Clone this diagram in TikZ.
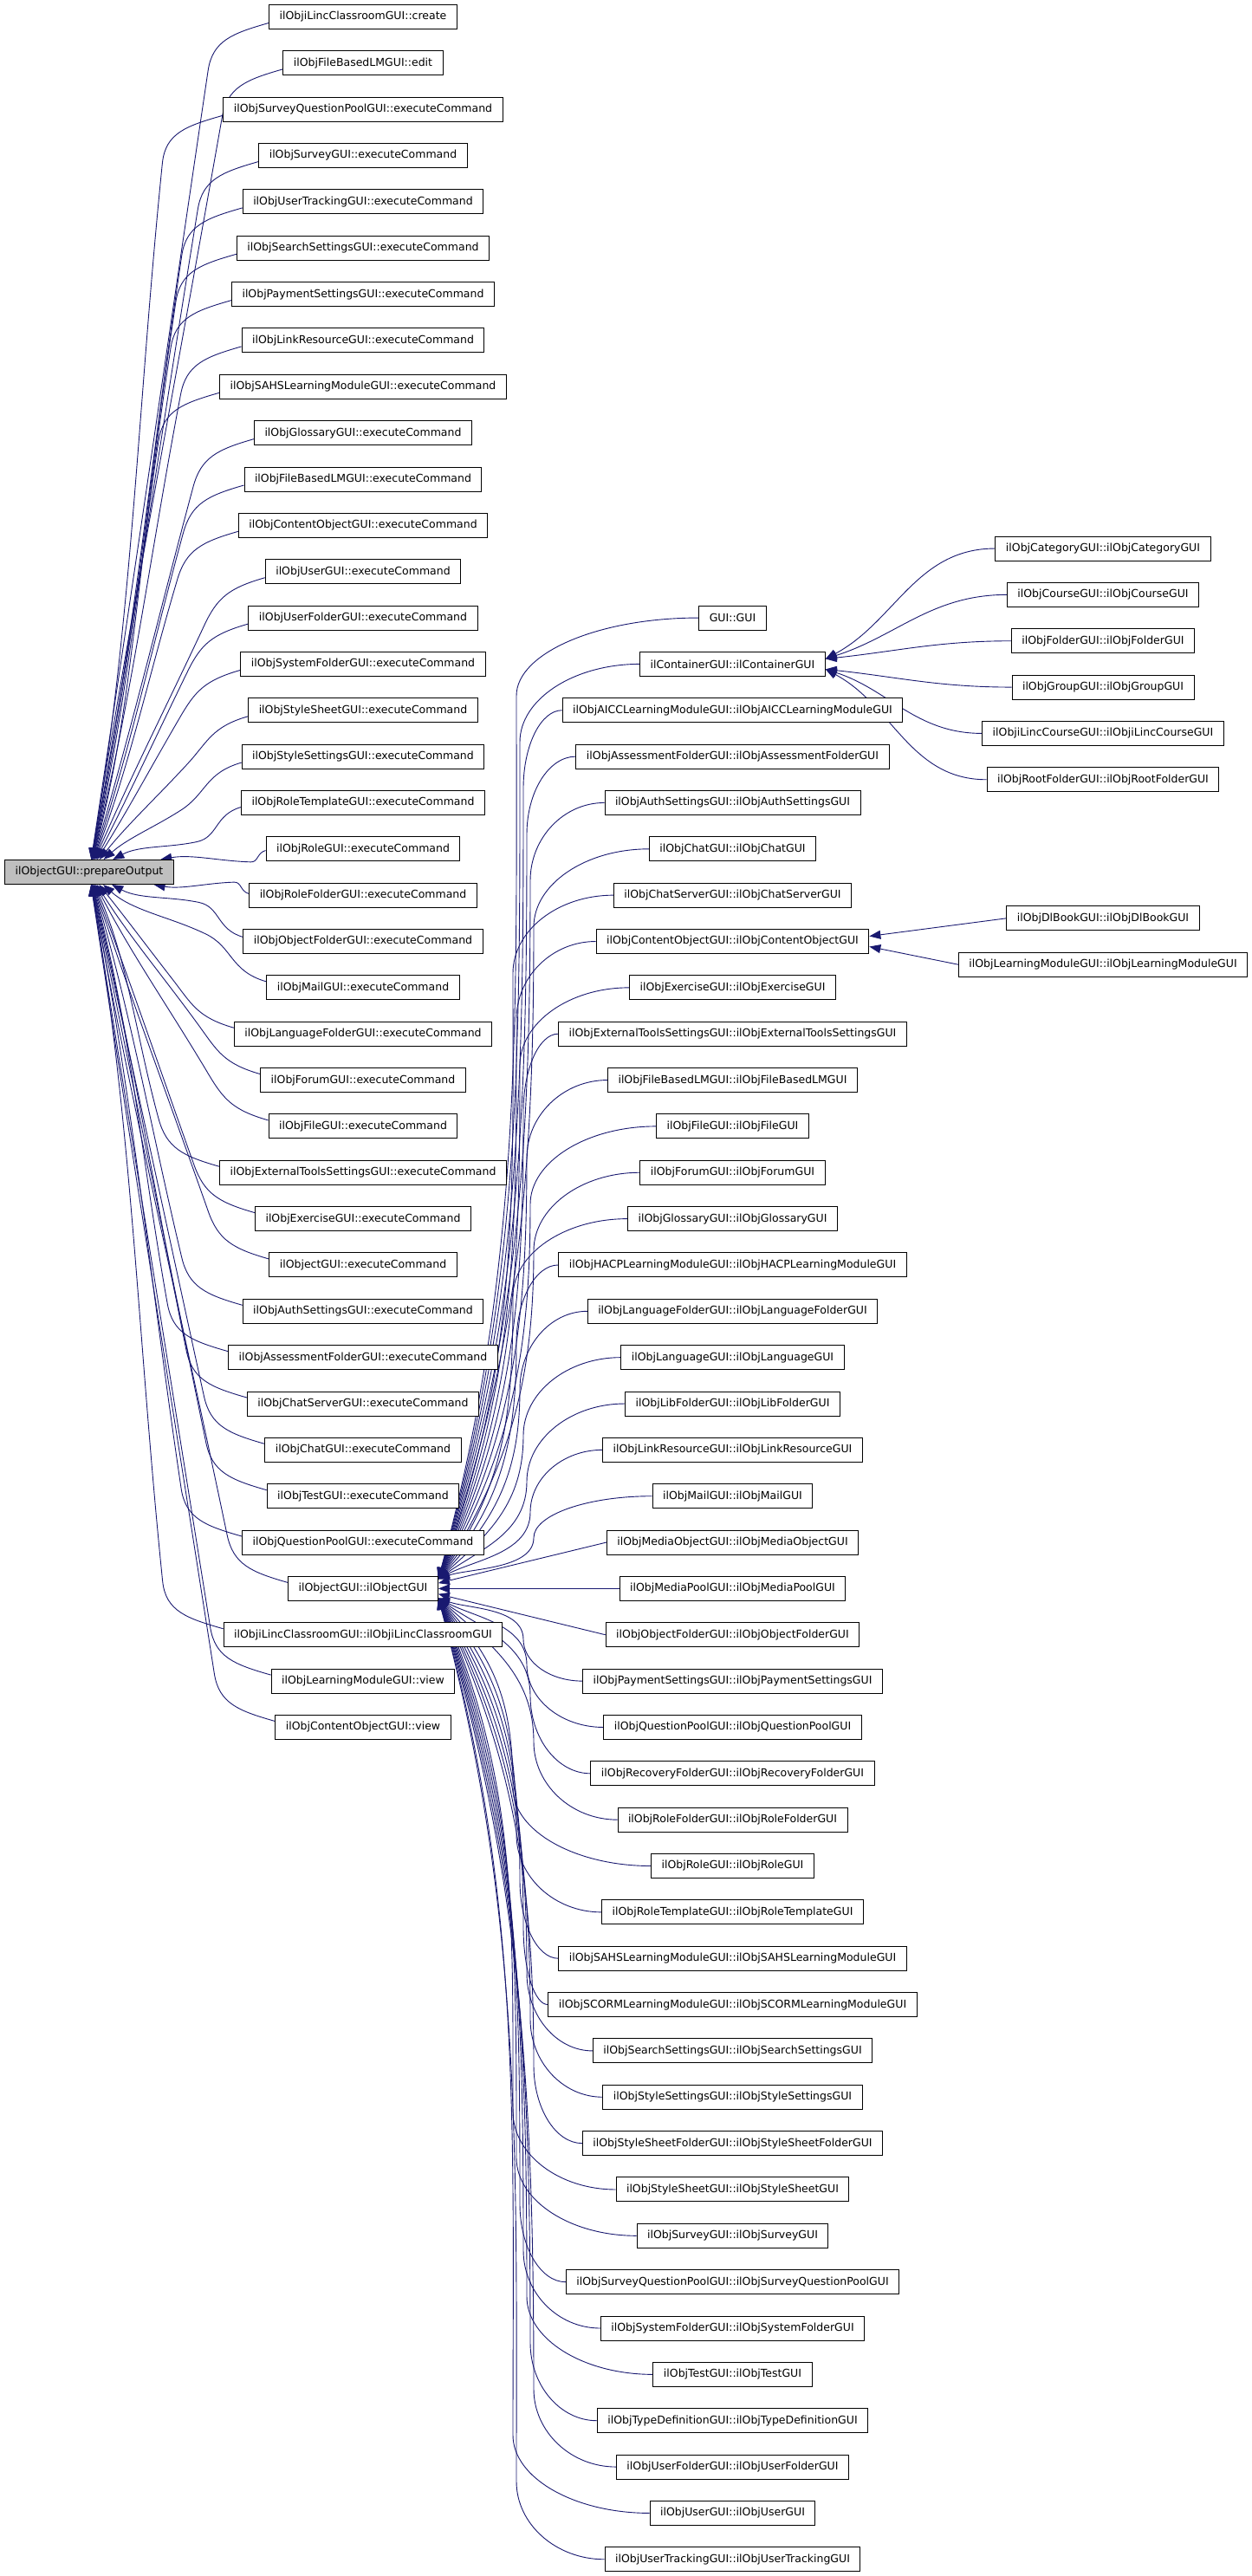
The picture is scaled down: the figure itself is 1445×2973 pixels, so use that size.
\documentclass[tikz,border=0pt]{standalone}
\usepackage{fontspec}
\setmainfont{DejaVu Sans}
\usepackage{tikz}
\usepackage{xcolor}
\usetikzlibrary{positioning, calc, arrows.meta, backgrounds}

\definecolor{callblue}{HTML}{191970}
\definecolor{focusgray}{HTML}{BFBFBF}

\begin{document}
\begin{tikzpicture}[
  x=1pt, y=1pt,
  font=\fontsize{12.5}{15}\selectfont,
  fn/.style={draw=black, line width=1pt, fill=white, rectangle,
    minimum height=28pt, inner xsep=12pt, inner ysep=0pt},
  focus/.style={fn, fill=focusgray},
  call/.style={callblue, line width=0.9pt, {Triangle[length=13pt, width=10pt]}-},
]
\useasboundingbox (0,0) rectangle (1445,-2973);

% column x positions (centres)
\pgfmathsetmacro{\xP}{103}
\pgfmathsetmacro{\xL}{419}
\pgfmathsetmacro{\xM}{845.5}
\pgfmathsetmacro{\xR}{1273}

% vertical step between rows, first row
\pgfmathsetmacro{\vs}{53.35}
\pgfmathsetmacro{\yA}{19.5}

% ---- the function itself ----
\node[focus] (po) at (\xP, {-(\yA+18.5*\vs)}) {ilObjectGUI::prepareOutput};

% ---- callers of prepareOutput (L35 is ilObjectGUI::ilObjectGUI) ----
\foreach \lbl [count=\k] in {
  ilObjiLincClassroomGUI::create,
  ilObjFileBasedLMGUI::edit,
  ilObjSurveyQuestionPoolGUI::executeCommand,
  ilObjSurveyGUI::executeCommand,
  ilObjUserTrackingGUI::executeCommand,
  ilObjSearchSettingsGUI::executeCommand,
  ilObjPaymentSettingsGUI::executeCommand,
  ilObjLinkResourceGUI::executeCommand,
  ilObjSAHSLearningModuleGUI::executeCommand,
  ilObjGlossaryGUI::executeCommand,
  ilObjFileBasedLMGUI::executeCommand,
  ilObjContentObjectGUI::executeCommand,
  ilObjUserGUI::executeCommand,
  ilObjUserFolderGUI::executeCommand,
  ilObjSystemFolderGUI::executeCommand,
  ilObjStyleSheetGUI::executeCommand,
  ilObjStyleSettingsGUI::executeCommand,
  ilObjRoleTemplateGUI::executeCommand,
  ilObjRoleGUI::executeCommand,
  ilObjRoleFolderGUI::executeCommand,
  ilObjObjectFolderGUI::executeCommand,
  ilObjMailGUI::executeCommand,
  ilObjLanguageFolderGUI::executeCommand,
  ilObjForumGUI::executeCommand,
  ilObjFileGUI::executeCommand,
  ilObjExternalToolsSettingsGUI::executeCommand,
  ilObjExerciseGUI::executeCommand,
  ilObjectGUI::executeCommand,
  ilObjAuthSettingsGUI::executeCommand,
  ilObjAssessmentFolderGUI::executeCommand,
  ilObjChatServerGUI::executeCommand,
  ilObjChatGUI::executeCommand,
  ilObjTestGUI::executeCommand,
  ilObjQuestionPoolGUI::executeCommand,
  ilObjectGUI::ilObjectGUI,
  ilObjiLincClassroomGUI::ilObjiLincClassroomGUI,
  ilObjLearningModuleGUI::view,
  ilObjContentObjectGUI::view} {
  \node[fn] (L\k) at (\xL, {-(\yA+(\k-1)*\vs)}) {\lbl};
}

% ---- callers of ilObjectGUI::ilObjectGUI (M2 container, M8 content object) ----
\foreach \lbl [count=\k] in {
  GUI::GUI,
  ilContainerGUI::ilContainerGUI,
  ilObjAICCLearningModuleGUI::ilObjAICCLearningModuleGUI,
  ilObjAssessmentFolderGUI::ilObjAssessmentFolderGUI,
  ilObjAuthSettingsGUI::ilObjAuthSettingsGUI,
  ilObjChatGUI::ilObjChatGUI,
  ilObjChatServerGUI::ilObjChatServerGUI,
  ilObjContentObjectGUI::ilObjContentObjectGUI,
  ilObjExerciseGUI::ilObjExerciseGUI,
  ilObjExternalToolsSettingsGUI::ilObjExternalToolsSettingsGUI,
  ilObjFileBasedLMGUI::ilObjFileBasedLMGUI,
  ilObjFileGUI::ilObjFileGUI,
  ilObjForumGUI::ilObjForumGUI,
  ilObjGlossaryGUI::ilObjGlossaryGUI,
  ilObjHACPLearningModuleGUI::ilObjHACPLearningModuleGUI,
  ilObjLanguageFolderGUI::ilObjLanguageFolderGUI,
  ilObjLanguageGUI::ilObjLanguageGUI,
  ilObjLibFolderGUI::ilObjLibFolderGUI,
  ilObjLinkResourceGUI::ilObjLinkResourceGUI,
  ilObjMailGUI::ilObjMailGUI,
  ilObjMediaObjectGUI::ilObjMediaObjectGUI,
  ilObjMediaPoolGUI::ilObjMediaPoolGUI,
  ilObjObjectFolderGUI::ilObjObjectFolderGUI,
  ilObjPaymentSettingsGUI::ilObjPaymentSettingsGUI,
  ilObjQuestionPoolGUI::ilObjQuestionPoolGUI,
  ilObjRecoveryFolderGUI::ilObjRecoveryFolderGUI,
  ilObjRoleFolderGUI::ilObjRoleFolderGUI,
  ilObjRoleGUI::ilObjRoleGUI,
  ilObjRoleTemplateGUI::ilObjRoleTemplateGUI,
  ilObjSAHSLearningModuleGUI::ilObjSAHSLearningModuleGUI,
  ilObjSCORMLearningModuleGUI::ilObjSCORMLearningModuleGUI,
  ilObjSearchSettingsGUI::ilObjSearchSettingsGUI,
  ilObjStyleSettingsGUI::ilObjStyleSettingsGUI,
  ilObjStyleSheetFolderGUI::ilObjStyleSheetFolderGUI,
  ilObjStyleSheetGUI::ilObjStyleSheetGUI,
  ilObjSurveyGUI::ilObjSurveyGUI,
  ilObjSurveyQuestionPoolGUI::ilObjSurveyQuestionPoolGUI,
  ilObjSystemFolderGUI::ilObjSystemFolderGUI,
  ilObjTestGUI::ilObjTestGUI,
  ilObjTypeDefinitionGUI::ilObjTypeDefinitionGUI,
  ilObjUserFolderGUI::ilObjUserFolderGUI,
  ilObjUserGUI::ilObjUserGUI,
  ilObjUserTrackingGUI::ilObjUserTrackingGUI} {
  \node[fn] (M\k) at (\xM, {-(\yA+(12+\k)*\vs)}) {\lbl};
}

% ---- callers of ilContainerGUI ----
\foreach \lbl [count=\k] in {
  ilObjCategoryGUI::ilObjCategoryGUI,
  ilObjCourseGUI::ilObjCourseGUI,
  ilObjFolderGUI::ilObjFolderGUI,
  ilObjGroupGUI::ilObjGroupGUI,
  ilObjiLincCourseGUI::ilObjiLincCourseGUI,
  ilObjRootFolderGUI::ilObjRootFolderGUI} {
  \node[fn] (R\k) at (\xR, {-(\yA+(10.5+\k)*\vs)}) {\lbl};
}

% ---- callers of ilObjContentObjectGUI ----
\foreach \lbl [count=\k] in {
  ilObjDlBookGUI::ilObjDlBookGUI,
  ilObjLearningModuleGUI::ilObjLearningModuleGUI} {
  \node[fn] (S\k) at (\xR, {-(\yA+(18.5+\k)*\vs)}) {\lbl};
}

% ---- call edges (behind the boxes) ----
\begin{pgfonlayer}{background}
% into prepareOutput: bend near the caller, then run down/up to po
\foreach \k in {1,...,38} {
  \pgfmathsetmacro{\dy}{(19.5-\k)*\vs}
  \pgfmathsetmacro{\sgn}{\dy/abs(\dy)}
  \pgfmathsetmacro{\ao}{atan2(\dy,150)}
  \pgfmathtruncatemacro{\an}{mod(\ao+360,360)}
  \pgfmathsetmacro{\fr}{min(1,abs(\dy)/110)}
  \pgfmathsetmacro{\ey}{-\sgn*7*\fr}
  \path (po.\an); \pgfgetlastxy{\sx}{\sy}
  \path ([yshift=\ey pt]L\k.west); \pgfgetlastxy{\wx}{\wy}
  \pgfmathsetmacro{\qx}{\wx-70*\fr}
  \pgfmathsetmacro{\qy}{\wy-\sgn*55*\fr}
  \pgfmathsetmacro{\bq}{atan2(\qy-\sy,\qx-\sx)}
  \pgfmathsetmacro{\bb}{\bq+180}
  \pgfmathsetmacro{\ctA}{0.35*veclen(\qx-\sx,\qy-\sy)}
  \pgfmathsetmacro{\ctB}{35*\fr}
  \pgfmathsetmacro{\ctC}{-42*\fr}
  \pgfmathsetmacro{\ctE}{-\sgn*12*\fr}
  \draw[call] (po.\an) .. controls +(\ao:\ctA) and +(\bb:\ctA) .. (\qx,\qy)
    .. controls +(\bq:\ctB) and +(\ctC,\ctE) .. ([yshift=\ey pt]L\k.west);
}
% into ilObjectGUI::ilObjectGUI: near ones straight
\foreach \k in {21,22,23} {
  \pgfmathsetmacro{\off}{11*(22-\k)*\vs/(abs((22-\k)*\vs)+40)}
  \draw[call] ([yshift=\off pt]L35.east) -- (M\k.west);
}
% far ones: up/down a trunk, then turn into the caller
\foreach \k in {1,...,20,24,25,...,43} {
  \pgfmathsetmacro{\dy}{(22-\k)*\vs}
  \pgfmathsetmacro{\sgn}{\dy/abs(\dy)}
  \pgfmathsetmacro{\off}{11*\sgn}
  \pgfmathsetmacro{\ao}{atan2(\dy,300)}
  \path ([yshift=\off pt]L35.east); \pgfgetlastxy{\sx}{\sy}
  \path (M\k.west); \pgfgetlastxy{\wx}{\wy}
  \pgfmathsetmacro{\tx}{592+4*mod(\k,7)}
  \pgfmathsetmacro{\rr}{min(90,0.45*abs(\dy))}
  \pgfmathsetmacro{\qy}{\wy-\sgn*\rr}
  \pgfmathsetmacro{\ctA}{0.35*abs(\qy-\sy)+20}
  \pgfmathsetmacro{\ctD}{-\sgn*\ctA}
  \pgfmathsetmacro{\ctB}{\sgn*0.55*\rr}
  \pgfmathsetmacro{\ctC}{-0.55*(\wx-\tx)}
  \draw[call] ([yshift=\off pt]L35.east) .. controls +(\ao:\ctA) and +(0,\ctD) .. (\tx,\qy)
    .. controls +(0,\ctB) and +(\ctC,0) .. (M\k.west);
}
% into ilContainerGUI
\foreach \k in {1,...,6} {
  \pgfmathsetmacro{\dy}{(3.5-\k)*\vs}
  \pgfmathsetmacro{\off}{6*\dy/abs(\dy)}
  \pgfmathsetmacro{\ao}{atan2(\dy,250)}
  \draw[call] ([yshift=\off pt]M2.east) to[out=\ao, in=180] (R\k.west);
}
% into ilObjContentObjectGUI
\draw[call] ([yshift=6pt]M8.east) -- (S1.west);
\draw[call] ([yshift=-6pt]M8.east) -- (S2.west);
\end{pgfonlayer}

\end{tikzpicture}
\end{document}
